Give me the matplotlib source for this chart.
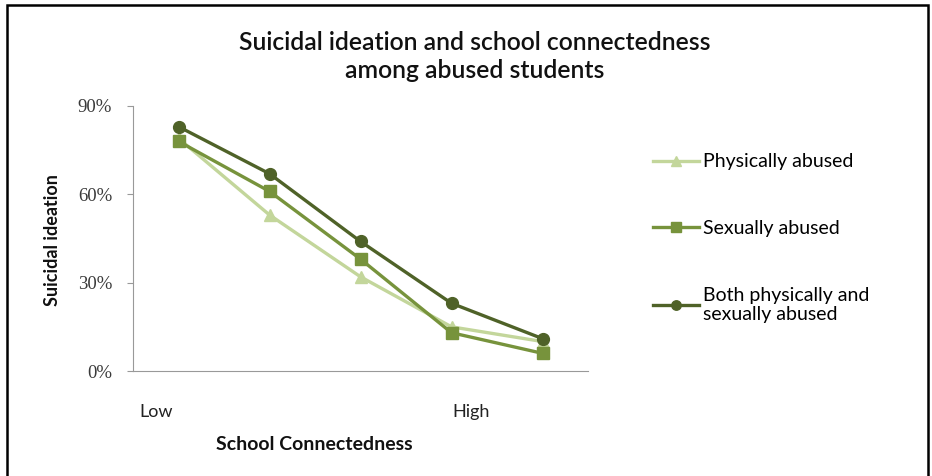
"""Suicidal ideation vs school connectedness among abused students."""

import matplotlib

matplotlib.use("Agg")
import matplotlib.pyplot as plt
from matplotlib.patches import Rectangle

plt.rcParams["font.family"] = ["Lato", "DejaVu Sans"]

# Data
categories = [0, 1, 2, 3, 4]
physically_abused = [79, 53, 32, 15, 10]
sexually_abused = [78, 61, 38, 13, 6]
both_abused = [83, 67, 44, 23, 11]
series_labels = [
    "Physically abused",
    "Sexually abused",
    "Both physically and\nsexually abused",
]
y_ticks = [0, 30, 60, 90]
x_tick_labels = ["Low", "High"]

COL_PHYS = "#C3D69B"
COL_SEX = "#77933C"
COL_BOTH = "#4F6228"

W, H = 932, 476
fig = plt.figure(figsize=(W / 100, H / 100), dpi=100)
fig.patch.set_facecolor("white")

ax = fig.add_axes([133 / W, 1 - 371 / H, (588 - 133) / W, (371 - 106) / H])

h1, = ax.plot(categories, physically_abused, color=COL_PHYS, lw=2.4,
              marker="^", ms=8.5, mec=COL_PHYS, mfc=COL_PHYS)
h2, = ax.plot(categories, sexually_abused, color=COL_SEX, lw=2.4,
              marker="s", ms=8.5, mec=COL_SEX, mfc=COL_SEX)
h3, = ax.plot(categories, both_abused, color=COL_BOTH, lw=2.4,
              marker="o", ms=8.5, mec=COL_BOTH, mfc=COL_BOTH)

ax.set_xlim(-0.5, 4.5)
ax.set_ylim(0, 90)
ax.set_yticks(y_ticks)
ax.set_yticklabels([f"{v}%" for v in y_ticks], fontfamily="Liberation Serif",
                   fontsize=13.5, color="#3a3a3a")
ax.tick_params(axis="y", length=4, width=0.8, color="#999999", pad=11)
ax.set_xticks([-0.25, 3.22])
ax.set_xticklabels(x_tick_labels, fontsize=13, color="#222222")
ax.tick_params(axis="x", length=0, pad=24)

for side in ("top", "right"):
    ax.spines[side].set_visible(False)
ax.spines["left"].set_color("#999999")
ax.spines["bottom"].set_color("#999999")
ax.spines["left"].set_linewidth(0.8)
ax.spines["bottom"].set_linewidth(0.8)

fig.text(475 / W, 1 - 42 / H, "Suicidal ideation and school connectedness",
         ha="center", va="center", fontsize=17.8, fontweight="semibold",
         color="#111111")
fig.text(475 / W, 1 - 70 / H, "among abused students",
         ha="center", va="center", fontsize=17.8, fontweight="semibold",
         color="#111111")
fig.text(314 / W, 1 - 445 / H, "School Connectedness", ha="center",
         va="center", fontsize=14, fontweight="bold", color="#111111")
fig.text(52 / W, 1 - 240 / H, "Suicidal ideation", ha="center",
         va="center", rotation=90, fontsize=13, fontweight="bold",
         color="#111111")

fig.legend(
    [h1, h2, h3],
    series_labels,
    loc="upper left",
    bbox_to_anchor=(635 / W, 1 - 136 / H),
    frameon=False,
    fontsize=14,
    handlelength=2.4,
    handletextpad=0.2,
    labelspacing=2.55,
    markerscale=0.8,
)

# outer chart border (bottom edge is cut off in the reference)
fig.patches.append(
    Rectangle((7 / W, -0.05), (928 - 7) / W, 1.05 - 5 / H,
              transform=fig.transFigure, fill=False, edgecolor="black",
              linewidth=1.8)
)

fig.savefig("out.png", dpi=100)
